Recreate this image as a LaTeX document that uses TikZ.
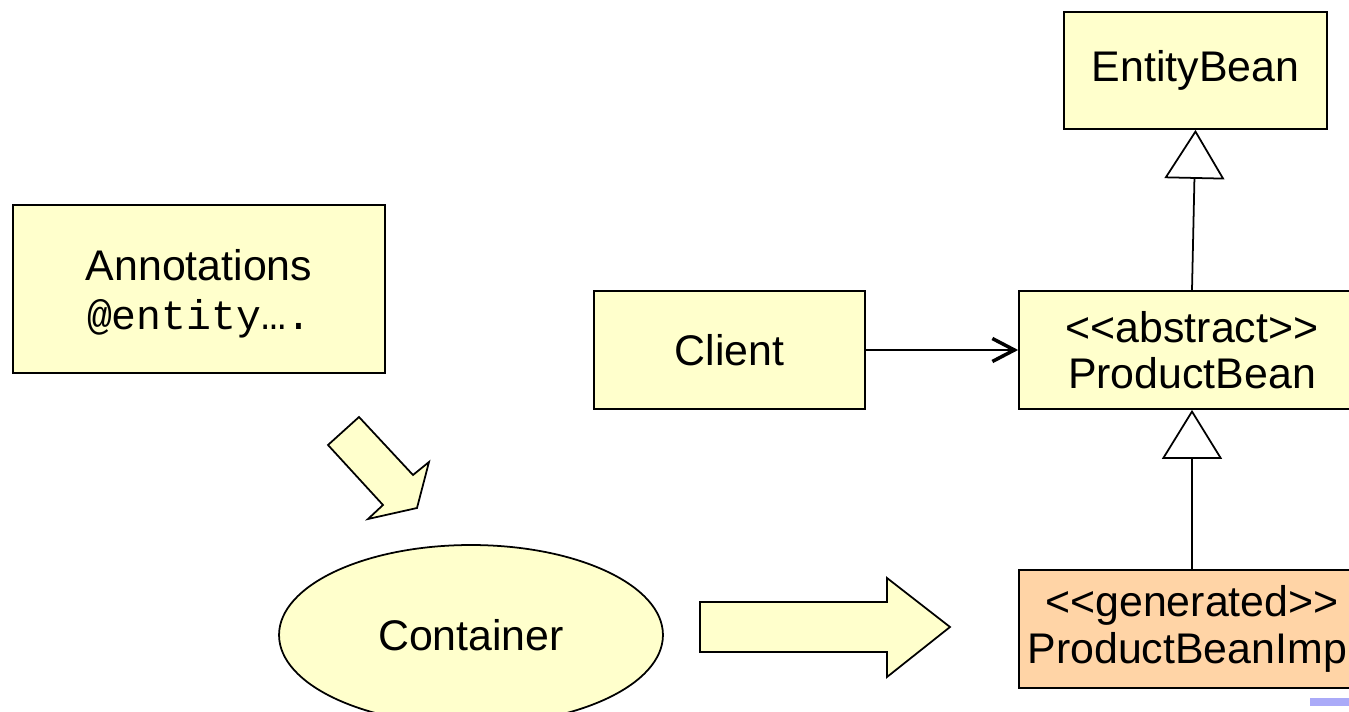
\documentclass[tikz,border=0pt]{standalone}
\usepackage{fontspec}
\setmainfont{Liberation Sans}
\setmonofont{Liberation Mono}
\usetikzlibrary{arrows.meta,shapes.geometric}
\definecolor{beanyellow}{HTML}{FFFFCC}
\definecolor{beanpeach}{HTML}{FFD4A6}
\definecolor{slidebar}{HTML}{AAAAF8}
\tikzset{
  umlbox/.style={draw,line width=1pt,fill=beanyellow,align=center,
    inner sep=0pt,font=\fontsize{24.4}{26.5}\selectfont},
  blockarrow/.style={draw,line width=1pt,fill=beanyellow,line join=miter},
  inherit/.style={line width=1pt,-{Triangle[open,fill=white,length=0.98cm,width=1.2cm,line width=1pt]}},
  calls/.style={line width=1pt,-{Straight Barb[length=0.44cm,width=0.46cm,line width=2pt]}}
}
\begin{document}
\begin{tikzpicture}[x=0.02cm,y=-0.02cm]
      \useasboundingbox (0,0) rectangle (1349,712);
      \clip (0,0) rectangle (1349,712);
      \node[umlbox,minimum width=5.26cm,minimum height=2.34cm] (eb) at (1195.5,70.5) {EntityBean};
      \node[umlbox,minimum width=7.44cm,minimum height=3.36cm] (ann) at (199,289)
        {\rule{0pt}{23pt}Annotations\\[1pt]{\ttfamily\fontsize{23.6}{26}\selectfont @entity….}};
      \node[umlbox,minimum width=5.42cm,minimum height=2.36cm] (client) at (729.5,350) {Client};
      \node[umlbox,minimum width=6.92cm,minimum height=2.36cm] (pb) at (1192,350)
        {<\kern0pt<abstract>\kern0pt>\\ProductBean};
      \node[umlbox,fill=beanpeach,minimum width=6.92cm,minimum height=2.36cm] (pbi) at (1192,629)
        {<\kern0pt<generated>\kern0pt>\\ProductBeanImp\hphantom{l}};
      \node[umlbox,ellipse,minimum width=7.68cm,minimum height=3.6cm] (cont) at (471,635) {Container};
      \begin{scope}
        \draw[calls] (client) -- (pb);
        \draw[inherit] (pb.north) -- (eb.south);
        \draw[inherit] (pbi.north) -- (pb.south);
      \end{scope}
      \draw[blockarrow] (328,445) -- (359,417) -- (413,475) -- (429,462) -- (417,508)
        -- (368,519) -- (383,505) -- cycle;
      \draw[blockarrow] (700,602) -- (887,602) -- (887,578) -- (950,627) -- (887,677)
        -- (887,652) -- (700,652) -- cycle;
      \fill[slidebar] (1310,698) rectangle (1349,706);
    \end{tikzpicture}
\end{document}
